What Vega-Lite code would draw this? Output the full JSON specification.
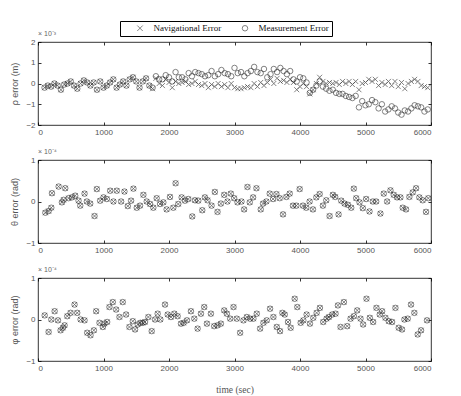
{
"$schema": "https://vega.github.io/schema/vega-lite/v6.json",
"padding": {"left": 10, "top": 20, "right": 22, "bottom": 5},
"datasets": {
"rho": [
{"t":100,"nav":-0.2,"meas":-0.2},{"t":150,"nav":-0.1,"meas":-0.1},{"t":200,"nav":-0.15,"meas":-0.15},{"t":250,"nav":0.0,"meas":0.0},{"t":300,"nav":-0.1,"meas":-0.1},{"t":350,"nav":-0.3,"meas":-0.3},{"t":400,"nav":-0.05,"meas":-0.05},{"t":450,"nav":0.0,"meas":0.0},{"t":500,"nav":0.1,"meas":0.1},{"t":550,"nav":-0.1,"meas":-0.1},{"t":600,"nav":-0.25,"meas":-0.25},{"t":650,"nav":0.0,"meas":0.0},{"t":700,"nav":0.15,"meas":0.15},{"t":750,"nav":0.05,"meas":0.05},{"t":800,"nav":-0.1,"meas":-0.1},{"t":850,"nav":0.05,"meas":0.05},{"t":900,"nav":-0.3,"meas":-0.3},{"t":950,"nav":0.1,"meas":0.1},{"t":1000,"nav":-0.2,"meas":-0.2},{"t":1050,"nav":-0.1,"meas":-0.1},{"t":1100,"nav":0.05,"meas":0.05},{"t":1150,"nav":0.2,"meas":0.2},{"t":1200,"nav":-0.2,"meas":-0.2},{"t":1250,"nav":-0.05,"meas":-0.05},{"t":1300,"nav":0.1,"meas":0.1},{"t":1350,"nav":-0.1,"meas":-0.1},{"t":1400,"nav":0.2,"meas":0.2},{"t":1450,"nav":0.3,"meas":0.3},{"t":1500,"nav":0.1,"meas":0.1},{"t":1550,"nav":-0.2,"meas":-0.2},{"t":1600,"nav":0.1,"meas":0.1},{"t":1650,"nav":0.25,"meas":0.25},{"t":1700,"nav":-0.1,"meas":-0.1},{"t":1750,"nav":-0.25,"meas":-0.2},{"t":1800,"nav":0.25,"meas":0.35},{"t":1850,"nav":0.0,"meas":0.2},{"t":1900,"nav":-0.1,"meas":0.2},{"t":1950,"nav":0.2,"meas":0.4},{"t":2000,"nav":0.05,"meas":0.3},{"t":2050,"nav":-0.2,"meas":0.1},{"t":2100,"nav":0.1,"meas":0.55},{"t":2150,"nav":0.0,"meas":0.3},{"t":2200,"nav":0.05,"meas":0.3},{"t":2250,"nav":0.1,"meas":0.2},{"t":2300,"nav":-0.05,"meas":0.5},{"t":2350,"nav":0.0,"meas":0.35},{"t":2400,"nav":0.1,"meas":0.55},{"t":2450,"nav":-0.05,"meas":0.5},{"t":2500,"nav":-0.1,"meas":0.45},{"t":2550,"nav":0.0,"meas":0.35},{"t":2600,"nav":-0.2,"meas":0.4},{"t":2650,"nav":-0.05,"meas":0.6},{"t":2700,"nav":-0.15,"meas":0.35},{"t":2750,"nav":0.0,"meas":0.45},{"t":2800,"nav":-0.15,"meas":0.65},{"t":2850,"nav":-0.05,"meas":0.5},{"t":2900,"nav":-0.2,"meas":0.45},{"t":2950,"nav":0.0,"meas":0.35},{"t":3000,"nav":-0.2,"meas":0.75},{"t":3050,"nav":-0.25,"meas":0.5},{"t":3100,"nav":-0.25,"meas":0.55},{"t":3150,"nav":-0.2,"meas":0.35},{"t":3200,"nav":-0.15,"meas":0.5},{"t":3250,"nav":-0.2,"meas":0.6},{"t":3300,"nav":0.0,"meas":0.8},{"t":3350,"nav":-0.15,"meas":0.55},{"t":3400,"nav":0.05,"meas":0.5},{"t":3450,"nav":-0.1,"meas":0.7},{"t":3500,"nav":0.05,"meas":0.3},{"t":3550,"nav":0.2,"meas":0.45},{"t":3600,"nav":0.0,"meas":0.7},{"t":3650,"nav":0.25,"meas":0.55},{"t":3700,"nav":0.1,"meas":0.75},{"t":3750,"nav":0.15,"meas":0.6},{"t":3800,"nav":0.05,"meas":0.45},{"t":3850,"nav":0.2,"meas":0.6},{"t":3900,"nav":0.05,"meas":0.2},{"t":3950,"nav":-0.3,"meas":0.1},{"t":4000,"nav":-0.15,"meas":0.3},{"t":4050,"nav":0.0,"meas":0.25},{"t":4100,"nav":-0.15,"meas":0.05},{"t":4150,"nav":-0.5,"meas":-0.45},{"t":4200,"nav":-0.3,"meas":-0.3},{"t":4250,"nav":0.0,"meas":-0.1},{"t":4300,"nav":0.3,"meas":0.1},{"t":4350,"nav":0.1,"meas":-0.15},{"t":4400,"nav":0.0,"meas":-0.25},{"t":4450,"nav":0.05,"meas":-0.35},{"t":4500,"nav":0.0,"meas":-0.3},{"t":4550,"nav":0.05,"meas":-0.45},{"t":4600,"nav":-0.05,"meas":-0.5},{"t":4650,"nav":0.1,"meas":-0.5},{"t":4700,"nav":0.0,"meas":-0.6},{"t":4750,"nav":0.1,"meas":-0.65},{"t":4800,"nav":-0.05,"meas":-0.7},{"t":4850,"nav":0.1,"meas":-0.6},{"t":4900,"nav":-0.3,"meas":-1.15},{"t":4950,"nav":0.0,"meas":-0.85},{"t":5000,"nav":0.05,"meas":-1.05},{"t":5050,"nav":0.2,"meas":-1.0},{"t":5100,"nav":0.1,"meas":-0.8},{"t":5150,"nav":0.2,"meas":-0.9},{"t":5200,"nav":-0.1,"meas":-1.2},{"t":5250,"nav":0.05,"meas":-1.0},{"t":5300,"nav":-0.05,"meas":-1.35},{"t":5350,"nav":0.1,"meas":-1.25},{"t":5400,"nav":-0.1,"meas":-1.1},{"t":5450,"nav":0.1,"meas":-1.2},{"t":5500,"nav":-0.15,"meas":-1.4},{"t":5550,"nav":0.05,"meas":-1.5},{"t":5600,"nav":-0.25,"meas":-1.3},{"t":5650,"nav":0.0,"meas":-1.35},{"t":5700,"nav":0.1,"meas":-1.2},{"t":5750,"nav":0.2,"meas":-1.05},{"t":5800,"nav":0.1,"meas":-1.1},{"t":5850,"nav":-0.1,"meas":-1.15},{"t":5900,"nav":-0.15,"meas":-1.35},{"t":5950,"nav":-0.2,"meas":-1.25}
],
"theta": [
{"t":112,"v":-0.27},{"t":162,"v":-0.23},{"t":203,"v":-0.15},{"t":213,"v":0.2},{"t":315,"v":0.36},{"t":365,"v":-0.02},{"t":391,"v":0.04},{"t":416,"v":0.32},{"t":467,"v":0.08},{"t":518,"v":0.1},{"t":568,"v":0.14},{"t":619,"v":0.02},{"t":645,"v":-0.1},{"t":711,"v":0.19},{"t":746,"v":0.0},{"t":797,"v":-0.05},{"t":863,"v":-0.35},{"t":898,"v":0.3},{"t":949,"v":0.02},{"t":1000,"v":0.1},{"t":1051,"v":0.06},{"t":1102,"v":0.26},{"t":1152,"v":0.0},{"t":1203,"v":0.26},{"t":1269,"v":0.0},{"t":1320,"v":0.24},{"t":1371,"v":-0.11},{"t":1421,"v":0.02},{"t":1457,"v":0.31},{"t":1508,"v":-0.15},{"t":1558,"v":-0.1},{"t":1609,"v":0.16},{"t":1660,"v":0.0},{"t":1711,"v":-0.06},{"t":1761,"v":-0.15},{"t":1812,"v":0.08},{"t":1863,"v":-0.06},{"t":1914,"v":-0.02},{"t":1964,"v":-0.19},{"t":2015,"v":0.11},{"t":2066,"v":-0.15},{"t":2101,"v":0.44},{"t":2142,"v":-0.06},{"t":2193,"v":0.1},{"t":2244,"v":0.02},{"t":2294,"v":0.06},{"t":2355,"v":-0.36},{"t":2396,"v":0.03},{"t":2447,"v":0.02},{"t":2508,"v":-0.21},{"t":2548,"v":0.1},{"t":2589,"v":0.03},{"t":2650,"v":-0.1},{"t":2700,"v":0.23},{"t":2741,"v":-0.25},{"t":2792,"v":-0.05},{"t":2843,"v":0.16},{"t":2893,"v":0.0},{"t":2944,"v":0.19},{"t":2995,"v":0.08},{"t":3046,"v":-0.02},{"t":3107,"v":0.0},{"t":3147,"v":-0.19},{"t":3198,"v":0.35},{"t":3233,"v":-0.02},{"t":3284,"v":0.1},{"t":3335,"v":0.32},{"t":3401,"v":-0.19},{"t":3436,"v":-0.05},{"t":3487,"v":0.0},{"t":3538,"v":0.19},{"t":3589,"v":0.06},{"t":3640,"v":0.18},{"t":3690,"v":0.08},{"t":3741,"v":-0.31},{"t":3792,"v":0.11},{"t":3843,"v":0.19},{"t":3893,"v":-0.1},{"t":3944,"v":-0.1},{"t":3995,"v":0.3},{"t":4046,"v":-0.1},{"t":4096,"v":-0.15},{"t":4147,"v":0.0},{"t":4198,"v":-0.19},{"t":4249,"v":0.1},{"t":4300,"v":0.18},{"t":4350,"v":-0.1},{"t":4401,"v":0.03},{"t":4452,"v":-0.35},{"t":4502,"v":0.16},{"t":4538,"v":0.11},{"t":4589,"v":-0.31},{"t":4629,"v":0.02},{"t":4680,"v":-0.05},{"t":4731,"v":-0.08},{"t":4782,"v":-0.15},{"t":4822,"v":0.31},{"t":4858,"v":0.08},{"t":4909,"v":-0.02},{"t":4959,"v":-0.16},{"t":5010,"v":0.06},{"t":5061,"v":-0.24},{"t":5112,"v":0.0},{"t":5163,"v":0.0},{"t":5228,"v":-0.29},{"t":5279,"v":0.19},{"t":5330,"v":0.0},{"t":5381,"v":0.27},{"t":5431,"v":0.16},{"t":5482,"v":0.1},{"t":5533,"v":0.1},{"t":5568,"v":-0.15},{"t":5619,"v":-0.19},{"t":5670,"v":0.11},{"t":5721,"v":0.22},{"t":5772,"v":0.32},{"t":5822,"v":0.1},{"t":5873,"v":0.03},{"t":5924,"v":-0.25},{"t":5959,"v":0.08}
],
"phi": [
{"t":102,"v":0.1},{"t":162,"v":-0.3},{"t":203,"v":0.0},{"t":254,"v":0.2},{"t":305,"v":-0.02},{"t":345,"v":-0.26},{"t":381,"v":-0.2},{"t":406,"v":-0.14},{"t":447,"v":0.08},{"t":497,"v":0.16},{"t":558,"v":0.36},{"t":599,"v":0.16},{"t":650,"v":0.0},{"t":711,"v":-0.02},{"t":751,"v":-0.32},{"t":802,"v":-0.38},{"t":853,"v":-0.26},{"t":888,"v":0.2},{"t":939,"v":-0.08},{"t":990,"v":-0.18},{"t":1015,"v":-0.1},{"t":1056,"v":-0.06},{"t":1091,"v":0.3},{"t":1142,"v":0.42},{"t":1193,"v":0.24},{"t":1244,"v":0.06},{"t":1294,"v":0.42},{"t":1345,"v":0.12},{"t":1396,"v":-0.18},{"t":1447,"v":-0.04},{"t":1482,"v":-0.24},{"t":1523,"v":-0.12},{"t":1563,"v":-0.08},{"t":1599,"v":-0.08},{"t":1634,"v":-0.06},{"t":1685,"v":0.06},{"t":1736,"v":-0.28},{"t":1787,"v":0.0},{"t":1827,"v":0.14},{"t":1868,"v":0.0},{"t":1939,"v":0.36},{"t":1980,"v":0.12},{"t":2030,"v":0.06},{"t":2081,"v":0.14},{"t":2132,"v":0.08},{"t":2183,"v":-0.1},{"t":2223,"v":-0.08},{"t":2274,"v":-0.02},{"t":2335,"v":0.2},{"t":2386,"v":0.02},{"t":2437,"v":-0.22},{"t":2488,"v":0.14},{"t":2538,"v":0.3},{"t":2579,"v":-0.1},{"t":2640,"v":0.14},{"t":2690,"v":-0.16},{"t":2741,"v":-0.14},{"t":2792,"v":-0.1},{"t":2843,"v":0.22},{"t":2883,"v":0.14},{"t":2934,"v":0.02},{"t":2985,"v":0.3},{"t":3035,"v":0.02},{"t":3086,"v":-0.32},{"t":3137,"v":-0.02},{"t":3188,"v":0.06},{"t":3239,"v":0.02},{"t":3289,"v":0.02},{"t":3340,"v":0.14},{"t":3391,"v":-0.22},{"t":3442,"v":-0.08},{"t":3492,"v":-0.02},{"t":3543,"v":0.26},{"t":3594,"v":0.06},{"t":3645,"v":-0.18},{"t":3695,"v":-0.28},{"t":3731,"v":0.16},{"t":3767,"v":0.12},{"t":3817,"v":-0.06},{"t":3858,"v":-0.2},{"t":3919,"v":0.5},{"t":3959,"v":0.3},{"t":4010,"v":-0.08},{"t":4051,"v":-0.02},{"t":4101,"v":0.12},{"t":4152,"v":-0.1},{"t":4203,"v":0.04},{"t":4254,"v":0.16},{"t":4304,"v":0.28},{"t":4355,"v":-0.06},{"t":4406,"v":0.02},{"t":4442,"v":0.06},{"t":4492,"v":0.12},{"t":4543,"v":0.14},{"t":4579,"v":0.34},{"t":4619,"v":-0.18},{"t":4670,"v":0.42},{"t":4721,"v":-0.16},{"t":4772,"v":0.02},{"t":4823,"v":0.08},{"t":4873,"v":0.22},{"t":4924,"v":0.02},{"t":4964,"v":-0.12},{"t":5015,"v":0.5},{"t":5066,"v":0.04},{"t":5117,"v":-0.06},{"t":5167,"v":0.28},{"t":5218,"v":0.12},{"t":5254,"v":0.2},{"t":5304,"v":0.04},{"t":5355,"v":-0.04},{"t":5406,"v":-0.06},{"t":5457,"v":0.28},{"t":5507,"v":-0.2},{"t":5558,"v":-0.24},{"t":5594,"v":0.0},{"t":5645,"v":0.02},{"t":5695,"v":0.36},{"t":5746,"v":0.16},{"t":5797,"v":-0.36},{"t":5848,"v":-0.26},{"t":5939,"v":-0.02}
]
},
"vconcat": [
{
"width": 393, "height": 83,
"title": {"text": "× 10⁻³"},
"data": {"name": "rho"},
"layer": [
{"mark": {"type": "point", "filled": false, "stroke": "#222", "strokeWidth": 0.8, "size": 25},
 "encoding": {
  "x": {"field": "t", "type": "quantitative", "scale": {"domain": [0, 6000], "nice": false}, "axis": {"values": [0,1000,2000,3000,4000,5000,6000], "title": null}},
  "y": {"field": "nav", "type": "quantitative", "scale": {"domain": [-2, 2], "nice": false}, "axis": {"values": [-2,-1,0,1,2], "title": "ρ error (m)"}},
  "shape": {"datum": "Navigational Error", "type": "nominal", "scale": {"domain": ["Navigational Error", "Measurement Error"], "range": ["M-1,-1L1,1M-1,1L1,-1", "circle"]}}
 }},
{"mark": {"type": "point", "filled": false, "stroke": "#222", "strokeWidth": 0.8, "size": 30},
 "encoding": {
  "x": {"field": "t", "type": "quantitative", "scale": {"domain": [0, 6000], "nice": false}, "axis": {"values": [0,1000,2000,3000,4000,5000,6000], "labels": false, "title": null}},
  "y": {"field": "meas", "type": "quantitative", "scale": {"domain": [-2, 2], "nice": false}, "axis": {"values": [-2,-1,0,1,2], "labels": false, "title": null}},
  "shape": {"datum": "Measurement Error", "type": "nominal"}
 }}
],
"resolve": {"scale": {"x": "independent", "y": "independent"}, "axis": {"x": "independent", "y": "independent"}}
},
{
"width": 393, "height": 83,
"title": {"text": "× 10⁻⁴"},
"data": {"name": "theta"},
"layer": [
{"mark": {"type": "point", "filled": false, "stroke": "#222", "strokeWidth": 0.8, "size": 25},
 "encoding": {
  "x": {"field": "t", "type": "quantitative", "scale": {"domain": [0, 6000], "nice": false}, "axis": {"values": [0,1000,2000,3000,4000,5000,6000], "title": null}},
  "y": {"field": "v", "type": "quantitative", "scale": {"domain": [-1, 1], "nice": false}, "axis": {"values": [-1,0,1], "title": "θ error (rad)"}},
  "shape": {"datum": "Navigational Error", "type": "nominal"}
 }},
{"mark": {"type": "point", "filled": false, "stroke": "#222", "strokeWidth": 0.8, "size": 30},
 "encoding": {
  "x": {"field": "t", "type": "quantitative", "scale": {"domain": [0, 6000], "nice": false}, "axis": {"values": [0,1000,2000,3000,4000,5000,6000], "labels": false, "title": null}},
  "y": {"field": "v", "type": "quantitative", "scale": {"domain": [-1, 1], "nice": false}, "axis": {"values": [-1,0,1], "labels": false, "title": null}},
  "shape": {"datum": "Measurement Error", "type": "nominal"}
 }}
],
"resolve": {"scale": {"x": "independent", "y": "independent"}, "axis": {"x": "independent", "y": "independent"}}
},
{
"width": 393, "height": 83,
"title": {"text": "× 10⁻⁴"},
"data": {"name": "phi"},
"layer": [
{"mark": {"type": "point", "filled": false, "stroke": "#222", "strokeWidth": 0.8, "size": 25},
 "encoding": {
  "x": {"field": "t", "type": "quantitative", "scale": {"domain": [0, 6000], "nice": false}, "axis": {"values": [0,1000,2000,3000,4000,5000,6000], "title": "time (sec)", "titleFont": "Liberation Serif", "titleFontSize": 9.5, "titlePadding": 12}},
  "y": {"field": "v", "type": "quantitative", "scale": {"domain": [-1, 1], "nice": false}, "axis": {"values": [-1,0,1], "title": "φ error (rad)"}},
  "shape": {"datum": "Navigational Error", "type": "nominal"}
 }},
{"mark": {"type": "point", "filled": false, "stroke": "#222", "strokeWidth": 0.8, "size": 30},
 "encoding": {
  "x": {"field": "t", "type": "quantitative", "scale": {"domain": [0, 6000], "nice": false}, "axis": {"values": [0,1000,2000,3000,4000,5000,6000], "labels": false, "title": null}},
  "y": {"field": "v", "type": "quantitative", "scale": {"domain": [-1, 1], "nice": false}, "axis": {"values": [-1,0,1], "labels": false, "title": null}},
  "shape": {"datum": "Measurement Error", "type": "nominal"}
 }}
],
"resolve": {"scale": {"x": "independent", "y": "independent"}, "axis": {"x": "independent", "y": "independent"}}
}
],
"spacing": 35,
"bounds": "flush",
"resolve": {"scale": {"shape": "shared"}, "legend": {"shape": "shared"}},
"config": {
 "view": {"stroke": "#000", "strokeWidth": 0.8},
 "title": {"anchor": "start", "fontSize": 7, "font": "Liberation Sans", "fontWeight": "normal", "color": "#666", "offset": 1, "frame": "group"},
 "axis": {"grid": false, "domain": false, "format": "d", "tickSize": -3, "tickColor": "#000", "tickWidth": 0.8, "labelFont": "Liberation Sans", "labelFontSize": 8, "labelColor": "#555", "labelPadding": 6, "titleFont": "Liberation Sans", "titleFontSize": 9, "titleFontWeight": "normal", "titleColor": "#555", "titlePadding": 6},
 "legend": {"orient": "none", "legendX": 82, "legendY": -21, "direction": "horizontal", "title": null, "strokeColor": "#000", "padding": 2.5, "labelFont": "Liberation Serif", "labelFontSize": 9, "labelColor": "#111", "labelOffset": 9, "symbolOffset": 13, "symbolStrokeColor": "#222", "symbolFillColor": "transparent", "symbolStrokeWidth": 0.8, "symbolSize": 30, "columnPadding": 6}
}
}
